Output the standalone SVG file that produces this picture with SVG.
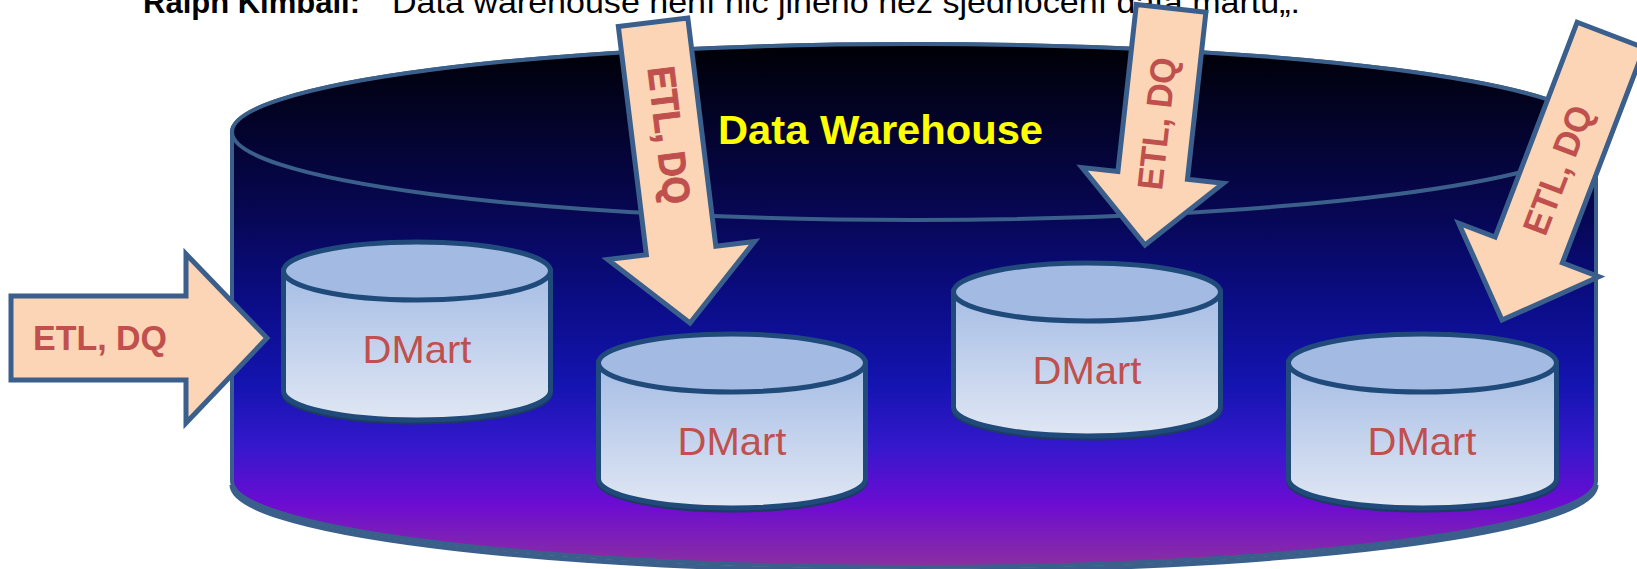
<svg xmlns="http://www.w3.org/2000/svg" width="1637" height="569" viewBox="0 0 1637 569">
<style>
.top{font-family:"Liberation Sans",Arial,sans-serif;font-size:32px;fill:#000}
.dw{font-family:"Liberation Sans",Arial,sans-serif;font-size:41px;font-weight:bold;fill:#ffff00}
.dm{font-family:"Liberation Sans",Arial,sans-serif;font-size:39px;fill:#c0504d}
.etl{font-family:"Liberation Sans",Arial,sans-serif;font-weight:bold;fill:#c0504d}
.arrow{fill:#fbd5b5;stroke:#3a5f8c;stroke-width:5;stroke-linejoin:miter}
.dmbody{fill:url(#dmGrad);stroke:#1f4a7a;stroke-width:5}
.dmtop{fill:#a3bbe3;stroke:#1f4a7a;stroke-width:5}
.dmshadow{fill:none;stroke:#1c3b62;stroke-width:5}
</style>
<defs>
<linearGradient id="dwGrad" gradientUnits="userSpaceOnUse" x1="0" y1="44" x2="0" y2="567">
<stop offset="0" stop-color="#000005"/>
<stop offset="0.33" stop-color="#070755"/>
<stop offset="0.5" stop-color="#0b0d88"/>
<stop offset="0.65" stop-color="#1414b0"/>
<stop offset="0.77" stop-color="#3518cc"/>
<stop offset="0.88" stop-color="#6c0cd2"/>
<stop offset="1" stop-color="#8c30a0"/>
</linearGradient>
<linearGradient id="dmGrad" x1="0" y1="0" x2="0" y2="1">
<stop offset="0" stop-color="#a6bde5"/>
<stop offset="1" stop-color="#e0e7f4"/>
</linearGradient>
</defs>

<text class="top" x="143" y="13"><tspan font-weight="bold" textLength="217" lengthAdjust="spacingAndGlyphs">Ralph Kimball:</tspan></text>
<text class="top" x="392" y="13" textLength="908" lengthAdjust="spacingAndGlyphs">Data warehouse není nic jiného než sjednocení data martů„.</text>

<g id="datawarehouse">
<path d="M232,485 A682,86 0 0 0 1596,485" fill="none" stroke="#3a5f8a" stroke-width="5"/>
<path d="M232,132 L232,481 A682,86 0 0 0 1596,481 L1596,132 A682,88 0 0 0 232,132 Z" fill="url(#dwGrad)" stroke="#3a5f8a" stroke-width="4"/>
<ellipse cx="914" cy="132" rx="682" ry="88" fill="url(#dwGrad)" stroke="#3a5f8a" stroke-width="4"/>
<text class="dw" x="718" y="144" textLength="325" lengthAdjust="spacingAndGlyphs">Data Warehouse</text>
</g>

<g id="dmart1">
<path class="dmshadow" d="M283.5,393 A133.5,29 0 0 0 550.5,393"/>
<path class="dmbody" d="M283.5,271 L283.5,391 A133.5,29 0 0 0 550.5,391 L550.5,271 Z"/>
<ellipse class="dmtop" cx="417" cy="271" rx="133.5" ry="29"/>
<text class="dm" x="417" y="363" text-anchor="middle" textLength="109" lengthAdjust="spacingAndGlyphs">DMart</text>
</g>

<g id="dmart2">
<path class="dmshadow" d="M598.5,481 A133.5,29 0 0 0 865.5,481"/>
<path class="dmbody" d="M598.5,363 L598.5,479 A133.5,29 0 0 0 865.5,479 L865.5,363 Z"/>
<ellipse class="dmtop" cx="732" cy="363" rx="133.5" ry="29"/>
<text class="dm" x="732" y="455" text-anchor="middle" textLength="109" lengthAdjust="spacingAndGlyphs">DMart</text>
</g>

<g id="dmart3">
<path class="dmshadow" d="M953.5,409 A133.5,29 0 0 0 1220.5,409"/>
<path class="dmbody" d="M953.5,292 L953.5,407 A133.5,29 0 0 0 1220.5,407 L1220.5,292 Z"/>
<ellipse class="dmtop" cx="1087" cy="292" rx="133.5" ry="29"/>
<text class="dm" x="1087" y="384" text-anchor="middle" textLength="109" lengthAdjust="spacingAndGlyphs">DMart</text>
</g>

<g id="dmart4">
<path class="dmshadow" d="M1288.5,481 A134,29 0 0 0 1556.5,481"/>
<path class="dmbody" d="M1288.5,363 L1288.5,479 A134,29 0 0 0 1556.5,479 L1556.5,363 Z"/>
<ellipse class="dmtop" cx="1422.5" cy="363" rx="134" ry="29"/>
<text class="dm" x="1422" y="455" text-anchor="middle" textLength="109" lengthAdjust="spacingAndGlyphs">DMart</text>
</g>

<g id="connectors">
<g id="arrow-left">
<polygon class="arrow" points="11,296 186,296 186,254 267,338 186,423 186,380 11,380"/>
<text class="etl" x="33" y="350" font-size="35" textLength="134" lengthAdjust="spacingAndGlyphs">ETL, DQ</text>
</g>
<g id="arrow-top1" transform="translate(690,323) rotate(-7)">
<polygon class="arrow" points="-35,-303 35,-303 35,-73 74,-73 0,0 -74,-73 -35,-73"/>
<text class="etl" transform="translate(2,-189) rotate(90)" x="0" y="13" font-size="38" font-weight="normal" stroke="#c0504d" stroke-width="1" text-anchor="middle" textLength="138" lengthAdjust="spacingAndGlyphs">ETL, DQ</text>
</g>
<g id="arrow-top2" transform="translate(1145,245) rotate(6.3)">
<polygon class="arrow" points="-35,-238 35,-238 35,-70 71,-70 0,0 -71,-70 -35,-70"/>
<text class="etl" transform="translate(0,-122) rotate(-90)" x="0" y="11" font-size="36" text-anchor="middle" textLength="133" lengthAdjust="spacingAndGlyphs">ETL, DQ</text>
</g>
<g id="arrow-top3" transform="translate(1502,320) rotate(20.9)">
<polygon class="arrow" points="-36,-305 36,-305 36,-75 75,-75 0,0 -75,-75 -36,-75"/>
<text class="etl" transform="translate(0,-160) rotate(-90)" x="0" y="11" font-size="36" text-anchor="middle" textLength="135" lengthAdjust="spacingAndGlyphs">ETL, DQ</text>
</g>
</g>
</svg>
